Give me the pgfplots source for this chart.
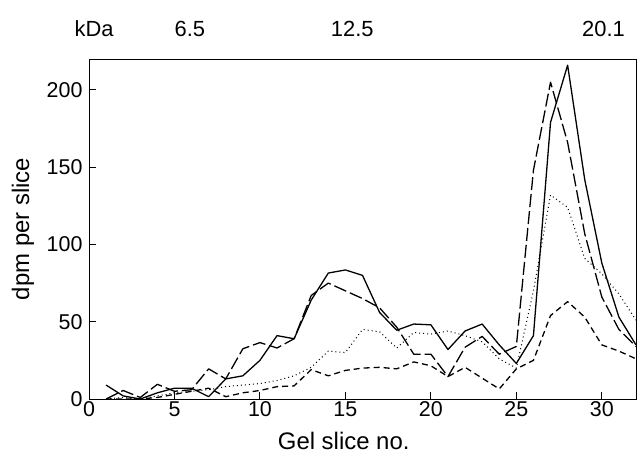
\documentclass[border=0pt]{standalone}
\usepackage{fontspec}
\setmainfont{Liberation Sans}
\usepackage{pgfplots}
\pgfplotsset{compat=1.18}

\begin{document}
\begin{tikzpicture}
% frame of the whole picture (642 x 456)
\path (-89bp,-59bp) rectangle (553bp,399bp);
\begin{axis}[
    scale only axis,
    width=547bp, height=340bp,
    xmin=0, xmax=32, ymin=0, ymax=220,
    xtick={0,5,...,30}, ytick={0,50,...,200},
    tick align=inside, major tick length=7bp,
    xtick pos=bottom, ytick pos=left,
    tick label style={font=\fontsize{21.5}{24}\selectfont},
    /pgf/number format/assume math mode=true,
    yticklabel style={xshift=-3bp},
    xticklabel style={yshift=1bp},
    axis line style={line width=1pt},
    tick style={line width=1pt, black},
    clip=false,
    every axis plot/.append style={black, line width=1.3pt, line join=round},
]
\addplot[solid] coordinates {
 (1,9) (2,2) (3,0) (4,4) (5,7) (6,7) (7,1.5) (8,13) (9,15) (10,25)
 (11,41) (12,39) (13,64) (14,81.5) (15,83.5) (16,80) (17,56) (18,44.5) (19,48.5) (20,48)
 (21,32) (22,44) (23,48.5) (24,35) (25,23) (26,41) (27,179) (28,216) (29,142) (30,88)
 (31,53) (32,35)
};
\addplot[dash pattern=on 13bp off 4bp] coordinates {
 (1,0) (2,5.5) (3,1) (4,9.5) (5,5) (6,6) (7,19.5) (8,13) (9,32.5) (10,36.5)
 (11,33) (12,39) (13,67) (14,75) (15,70) (16,65) (17,59) (18,46.5) (19,29) (20,29)
 (21,14.5) (22,33.5) (23,40.5) (24,29) (25,34) (26,148) (27,205) (28,166) (29,107) (30,66)
 (31,45) (32,34)
};
\addplot[line width=1pt, dash pattern=on 1bp off 3bp] coordinates {
 (1,0) (2,1) (3,0) (4,2) (5,4) (6,5) (7,6) (8,8) (9,9) (10,10)
 (11,12) (12,15) (13,20.5) (14,31) (15,30) (16,45) (17,43.5) (18,33) (19,43) (20,42)
 (21,44) (22,41) (23,37) (24,26) (25,20) (26,70) (27,132) (28,124) (29,91) (30,81)
 (31,68) (32,51)
};
\addplot[dash pattern=on 6bp off 4bp] coordinates {
 (1,0) (2,0) (3,0) (4,1) (5,3) (6,5) (7,7) (8,1.5) (9,4) (10,5.5)
 (11,8) (12,8.5) (13,19) (14,15) (15,18.5) (16,20) (17,20.5) (18,19.5) (19,24) (20,21.5)
 (21,14.5) (22,20.5) (23,13.5) (24,6.5) (25,19.5) (26,25) (27,54) (28,63) (29,53) (30,35)
 (31,31) (32,26)
};
% labels
\node[font=\fontsize{24}{26}\selectfont, rotate=90] at ([xshift=-66bp]axis description cs:0,0.5) {dpm per slice};
\node[font=\fontsize{24}{26}\selectfont] at ([yshift=-42bp]axis cs:14.9,0) {Gel slice no.};
% molecular mass markers
\node[font=\fontsize{22}{24}\selectfont] at ([yshift=30bp]axis cs:0.3,220) {kDa};
\node[font=\fontsize{22}{24}\selectfont] at ([yshift=30bp]axis cs:5.9,220) {6.5};
\node[font=\fontsize{22}{24}\selectfont] at ([yshift=30bp]axis cs:15.4,220) {12.5};
\node[font=\fontsize{22}{24}\selectfont] at ([yshift=30bp]axis cs:30.1,220) {20.1};
\end{axis}
\end{tikzpicture}
\end{document}
